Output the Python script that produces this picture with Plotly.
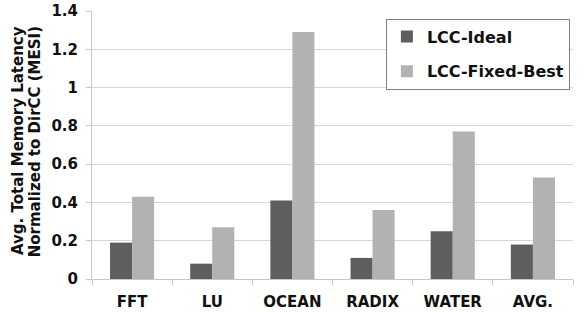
import plotly.graph_objects as go

categories = ["FFT", "LU", "OCEAN", "RADIX", "WATER", "AVG."]
lcc_ideal = [0.19, 0.08, 0.41, 0.11, 0.25, 0.18]
lcc_fixed_best = [0.43, 0.27, 1.29, 0.36, 0.77, 0.53]
y_ticks = [0, 0.2, 0.4, 0.6, 0.8, 1.0, 1.2, 1.4]
y_tick_labels = ["0", "0.2", "0.4", "0.6", "0.8", "1", "1.2", "1.4"]

FONT = "DejaVu Sans"

fig = go.Figure()
fig.add_trace(go.Bar(x=categories, y=lcc_ideal, name="LCC-Ideal",
                     marker=dict(color="#5e5e5e", line=dict(width=0)),
                     legendgroup="a"))
fig.add_trace(go.Bar(x=categories, y=lcc_fixed_best, name="LCC-Fixed-Best",
                     marker=dict(color="#b2b2b2", line=dict(width=0)),
                     legendgroup="b"))

fig.update_layout(
    width=585, height=312,
    margin=dict(l=92, r=12, t=11, b=33),
    paper_bgcolor="white", plot_bgcolor="white",
    barmode="group", bargap=0.45, bargroupgap=0.0,
    font=dict(family=FONT, color="#111111"),
    legend=dict(x=0.611, y=0.972, xanchor="left", yanchor="top",
                bgcolor="white", bordercolor="#808080", borderwidth=1,
                font=dict(family=FONT, size=16, color="#111111", weight="bold"),
                tracegroupgap=11, traceorder="grouped"),
    showlegend=True,
)
fig.update_xaxes(
    automargin=False,
    showline=True, linecolor="#c8c8c8", linewidth=1,
    ticks="outside", ticklen=5, tickcolor="#c8c8c8", tickson="boundaries",
    tickfont=dict(family=FONT, size=15, color="#111111", weight="bold"),
    ticklabelstandoff=9, showgrid=False,
)
fig.update_yaxes(
    automargin=False,
    range=[0, 1.4], tickvals=y_ticks, ticktext=y_tick_labels,
    showline=True, linecolor="#c8c8c8", linewidth=1,
    ticks="outside", ticklen=5, tickcolor="#c8c8c8",
    showgrid=True, gridcolor="rgba(200,200,200,0.75)", gridwidth=1,
    tickfont=dict(family=FONT, size=15, color="#111111", weight="bold"),
    ticklabelstandoff=5, zeroline=False, layer="above traces",
)
fig.add_annotation(text="Avg. Total Memory Latency", xref="paper", yref="paper",
                   x=(18 - 92) / 481, y=0.515, xanchor="center", yanchor="middle",
                   textangle=-90, showarrow=False,
                   font=dict(family=FONT, size=15, color="#111111", weight="bold"))
fig.add_annotation(text="Normalized to DirCC (MESI)", xref="paper", yref="paper",
                   x=(35 - 92) / 481, y=0.51, xanchor="center", yanchor="middle",
                   textangle=-90, showarrow=False,
                   font=dict(family=FONT, size=15, color="#111111", weight="bold"))

fig.write_html("out.html")
